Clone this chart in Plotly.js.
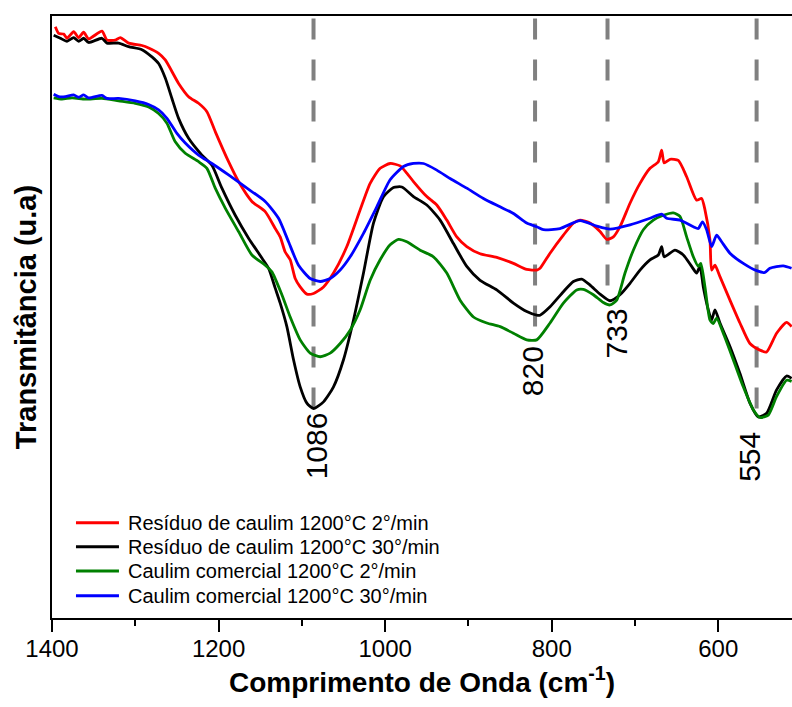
<!DOCTYPE html>
<html>
<head>
<meta charset="utf-8">
<script src="https://cdn.plot.ly/plotly-3.0.1.min.js"></script>
<style>html,body{margin:0;padding:0;background:#fff;}#chart{width:792px;height:707px;}</style>
</head>
<body>
<div id="chart"></div>
<script>
// ---- Data (wavenumber cm-1, transmittance a.u.) ----
const seriesNames = [
  "Resíduo de caulim 1200°C 2°/min",
  "Resíduo de caulim 1200°C 30°/min",
  "Caulim comercial 1200°C 2°/min",
  "Caulim comercial 1200°C 30°/min"
];
const seriesColors = ["#ff0000", "#000000", "#008000", "#0000ff"];

const redX = [1396,1392,1386,1382,1374,1368,1362,1356,1340,1334,1324,1318,1308,1292,1284,1272,1264,1248,1236,1224,1214,1204,1188,1176,1160,1144,1132,1126,1120,1114,1108,1102,1094,1086,1074,1062,1046,1030,1018,1006,994,982,974,966,950,938,926,914,902,886,866,846,830,818,814,802,786,774,766,754,742,734,726,718,706,694,682,672,668,665,658,648,638,626,620,616,610,608,604,598,586,574,562,550,542,530,518,512];
const redY = [98.2,97.1,97.0,96.3,97.4,96.4,97.3,96.2,97.5,96.0,96.0,96.4,95.5,95.1,94.7,93.8,92.7,88.8,86.6,85.5,84.1,80.8,75.8,72.5,69.2,67.5,64.7,63.3,60.8,59.5,56.4,55.0,53.8,53.9,55.0,57.3,61.7,67.8,72.2,74.7,75.5,75.1,73.9,72.5,70.0,68.6,66.1,63.3,61.7,60.5,59.9,58.9,57.9,57.8,58.1,60.6,63.6,65.6,66.1,65.6,64.2,62.9,63.3,65.0,68.9,72.2,74.7,75.8,77.7,75.6,76.2,76.0,73.3,69.4,69.7,67.8,62.8,57.8,58.6,56.7,52.8,49.0,45.6,44.5,44.2,47.3,49.1,48.4];

const blackX = [1398,1390,1382,1374,1368,1362,1356,1340,1334,1320,1308,1292,1280,1272,1264,1256,1248,1236,1220,1208,1196,1180,1164,1148,1140,1132,1126,1118,1110,1102,1094,1086,1074,1062,1050,1038,1026,1014,1002,990,980,966,950,934,918,902,886,866,846,830,818,814,802,786,774,764,754,742,730,718,706,694,682,672,668,665,652,642,632,626,622,618,612,608,604,598,586,574,562,552,542,530,518,512];
const blackY = [96.8,96.3,95.8,96.4,95.8,96.3,95.6,96.3,95.5,95.5,94.9,94.4,93.2,92.1,89.7,86.3,83.0,79.7,76.9,75.2,71.4,66.9,63.1,59.8,58.1,54.8,52.3,48.4,42.9,38.4,35.7,34.8,35.9,38.4,42.9,49.5,57.3,65.6,70.0,71.5,71.6,70.0,68.6,66.1,62.2,58.4,56.1,54.5,52.3,50.9,50.3,50.3,51.7,54.2,55.9,56.3,55.3,53.8,52.7,53.7,55.6,57.8,59.5,60.3,61.7,60.0,61.1,60.3,58.4,57.3,58.4,55.0,51.2,49.5,51.2,49.0,45.1,40.6,35.7,33.4,34.0,37.9,40.2,39.8];

const greenX = [1398,1388,1376,1360,1340,1320,1300,1284,1272,1262,1252,1240,1224,1214,1204,1192,1176,1160,1144,1136,1124,1114,1102,1090,1078,1066,1054,1042,1030,1018,1006,994,984,974,958,942,926,910,894,878,862,846,830,818,802,786,770,762,750,738,730,722,712,702,690,678,666,654,646,638,630,624,621,616,610,606,602,594,582,570,558,550,540,530,518,512];
const greenY = [86.4,86.2,86.4,86.2,86.3,85.9,85.5,84.9,83.8,82.2,79.1,77.2,75.8,74.7,71.4,68.1,64.2,60.3,58.6,57.5,53.7,50.0,46.2,44.0,43.4,44.0,45.6,47.8,51.2,56.1,59.5,62.0,62.9,62.5,61.1,60.0,57.3,52.8,50.0,49.0,48.4,47.3,46.2,46.2,49.0,52.3,54.5,54.6,53.7,52.4,52.0,52.8,57.3,61.1,64.5,66.1,66.9,67.3,66.7,63.3,60.0,58.4,58.9,55.0,49.5,48.9,49.8,47.3,42.9,38.4,34.6,33.3,33.7,36.8,39.5,39.3];

const blueX = [1398,1392,1384,1374,1368,1362,1356,1340,1334,1320,1300,1284,1272,1262,1250,1240,1224,1208,1188,1168,1144,1128,1116,1104,1090,1078,1066,1054,1042,1026,1010,994,978,966,954,938,922,902,882,862,846,830,818,810,790,766,746,730,706,682,668,662,646,630,624,619,614,608,602,596,586,570,554,544,538,522,512];
const blueY = [87.0,86.6,86.6,86.9,86.5,86.9,86.4,86.8,86.3,86.3,85.9,85.3,84.4,83.0,80.5,78.9,76.9,75.5,73.6,71.6,69.2,66.4,62.5,58.6,56.4,55.9,56.4,57.8,60.0,63.9,68.3,72.8,75.0,75.5,75.5,74.4,73.0,71.4,69.7,68.3,67.2,65.6,65.0,64.5,64.7,66.0,65.1,64.6,65.3,66.4,67.1,66.4,66.1,65.0,64.7,65.8,64.5,61.7,63.6,62.5,60.6,58.9,57.7,57.4,58.1,58.5,58.1];

// Marked bands
const peakPos = [1086, 820, 733, 554];
const peakLabels = ["1086", "820", "733", "554"];
const peakLineEnd = [35.0, 47.8, 55.1, 34.6];
const peakLabelY = [28.6, 41.0, 47.2, 26.7];

const xTickVals = [1400, 1200, 1000, 800, 600];
const xTickText = ["1400", "1200", "1000", "800", "600"];

// ---- Build figure ----
const FONT = "Arial, 'Liberation Sans', Helvetica, sans-serif";
const xs = [redX, blackX, greenX, blueX];
const ys = [redY, blackY, greenY, blueY];
const traces = xs.map((x, i) => ({
  x: x, y: ys[i], type: "scatter", mode: "lines", name: seriesNames[i],
  line: {color: seriesColors[i], width: 2.8, shape: "spline", smoothing: 0.6},
  showlegend: false, hoverinfo: "skip"
}));

const shapes = [];
const annotations = [];
const labelShift = [3, -3, 9, -7];
peakPos.forEach((p, i) => {
  shapes.push({type: "line", xref: "x", yref: "y", x0: p, x1: p, y0: 99.6, y1: peakLineEnd[i],
    line: {color: "#808080", width: 4, dash: "21px,20px"}, layer: "below"});
  annotations.push({xref: "x", yref: "y", x: p, y: peakLabelY[i], text: peakLabels[i], textangle: -90,
    showarrow: false, xanchor: "center", yanchor: "middle", xshift: labelShift[i],
    font: {family: FONT, size: 30, color: "#000"}});
});

// Legend drawn manually (to match tight row spacing)
const legRowsPx = [522.7, 546.7, 571, 595.7];
seriesNames.forEach((n, i) => {
  const py = (618 - legRowsPx[i]) / 602;
  shapes.push({type: "line", xref: "paper", yref: "paper", x0: 0.0324, x1: 0.0905, y0: py, y1: py,
    line: {color: seriesColors[i], width: 3}});
  annotations.push({xref: "paper", yref: "paper", x: 0.1, y: py, text: n, showarrow: false,
    xanchor: "left", yanchor: "middle", font: {family: FONT, size: 20, color: "#000"}});
});

const layout = {
  width: 792, height: 707,
  margin: {l: 52, r: 0, t: 16, b: 89, pad: 0},
  paper_bgcolor: "#fff", plot_bgcolor: "#fff",
  font: {family: FONT, color: "#000"},
  showlegend: false,
  xaxis: {
    range: [1400, 511.5], showgrid: false, zeroline: false,
    showline: true, linecolor: "#000", linewidth: 2, mirror: true,
    ticks: "outside", ticklen: 12, tickwidth: 2, tickcolor: "#000",
    ticklabelstandoff: -4,
    tickvals: xTickVals, ticktext: xTickText,
    minor: {ticks: "outside", ticklen: 6, tickwidth: 2, tickcolor: "#000", dtick: 100, tick0: 0, showgrid: false},
    tickfont: {family: FONT, size: 24, color: "#000"},
    title: {text: "<b>Comprimento de Onda (cm<sup>-1</sup>)</b>", font: {family: FONT, size: 28, color: "#000"}, standoff: 6}
  },
  yaxis: {
    range: [0, 100], showgrid: false, zeroline: false,
    showline: true, linecolor: "#000", linewidth: 2, mirror: false,
    ticks: "", showticklabels: false,
    title: {text: "<b>Transmitância (u.a)</b>", font: {family: FONT, size: 29, color: "#000"}, standoff: 5}
  },
  shapes: shapes,
  annotations: annotations
};

Plotly.newPlot("chart", traces, layout, {staticPlot: true, displayModeBar: false});
</script>
</body>
</html>
